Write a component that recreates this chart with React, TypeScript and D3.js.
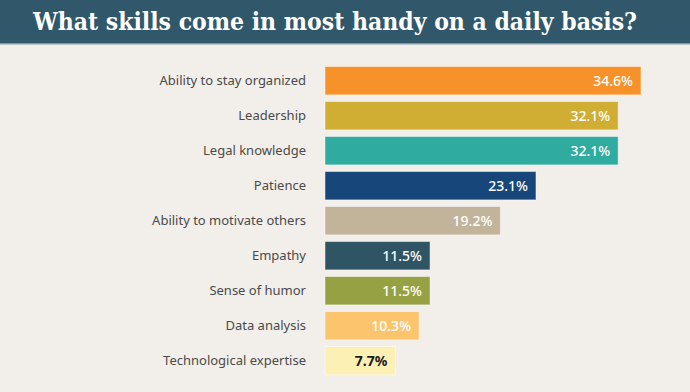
import React from "react";
import * as d3 from "d3";

const categories = [
  "Ability to stay organized",
  "Leadership",
  "Legal knowledge",
  "Patience",
  "Ability to motivate others",
  "Empathy",
  "Sense of humor",
  "Data analysis",
  "Technological expertise",
];
const values = [34.6, 32.1, 32.1, 23.1, 19.2, 11.5, 11.5, 10.3, 7.7];
const colors = [
  "#f7922a",
  "#cfae33",
  "#2fab9f",
  "#17477a",
  "#c2b49a",
  "#2f5564",
  "#95a142",
  "#fdc46e",
  "#fdf0b5",
];
const labelColors = ["#fff", "#fff", "#fff", "#fff", "#fff", "#fff", "#fff", "#fff", "#1a1a1a"];
const title = "What skills come in most handy on a daily basis?";

export default function App() {
  const W = 690;
  const H = 392;
  const x = d3.scaleLinear().domain([0, 34.6]).range([325, 641]);
  const y = d3
    .scaleBand<string>()
    .domain(categories)
    .range([63.2, 378.2])
    .paddingInner(0.19)
    .paddingOuter(0.095);

  return (
    <svg
      width={W}
      height={H}
      style={{ position: "absolute", left: 0, top: 0, display: "block" }}
    >
      <rect x={0} y={0} width={W} height={H} fill="#f2efea" />
      <rect x={0} y={0} width={W} height={43} fill="#30586a" />
      <rect x={0} y={43} width={W} height={1.5} fill="#7f9aa4" />
      <text
        x={33}
        y={30}
        fill="#ffffff"
        fontFamily="'DejaVu Serif Condensed', 'DejaVu Serif', serif"
        fontWeight="bold"
        fontSize={24}
        textLength={604}
        lengthAdjust="spacingAndGlyphs"
      >
        {title}
      </text>
      {categories.map((c, i) => {
        const by = y(c)!;
        const bh = y.bandwidth();
        return (
          <g key={c}>
            <rect
              x={x(0)}
              y={by}
              width={x(values[i]) - x(0)}
              height={bh}
              fill={colors[i]}
              stroke="rgba(255,255,255,0.45)"
              strokeWidth={1}
            />
            <text
              x={306}
              y={by + bh / 2}
              dy="0.35em"
              textAnchor="end"
              fill="#4a4a4a"
              fontFamily="'Noto Sans', sans-serif"
              fontSize={13}
            >
              {c}
            </text>
            <text
              x={x(values[i]) - 8}
              y={by + bh / 2}
              dy="0.36em"
              textAnchor="end"
              fill={labelColors[i]}
              fontFamily="'Noto Sans', sans-serif"
              fontWeight={i === 8 ? 700 : 500}
              fontSize={14}
            >
              {values[i].toFixed(1) + "%"}
            </text>
          </g>
        );
      })}
    </svg>
  );
}
